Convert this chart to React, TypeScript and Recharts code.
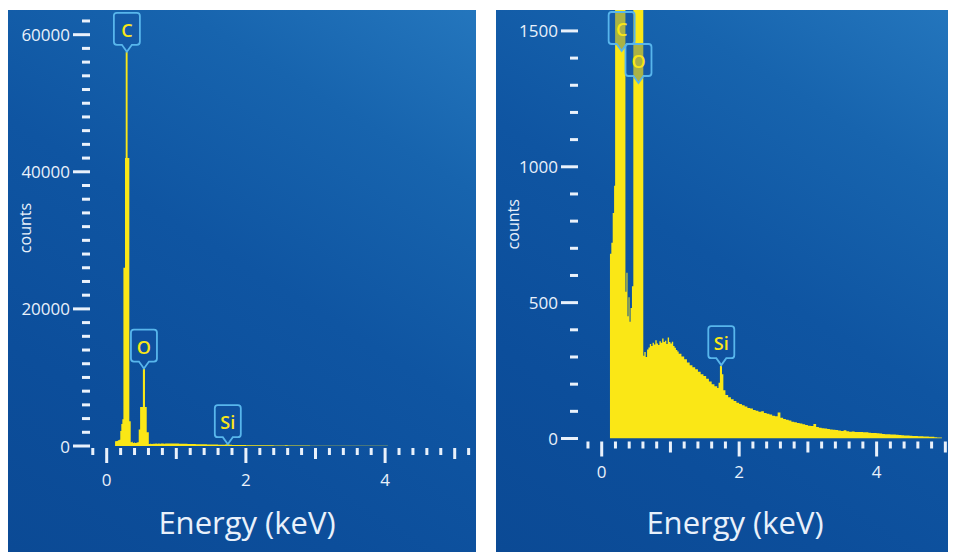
import React from 'react';
import { AreaChart, Area, XAxis, YAxis, ReferenceDot } from 'recharts';

// EDS spectrum, channel start energy (keV) and counts per channel
const energyKeV = [
  0.12, 0.14, 0.16, 0.18, 0.195, 0.21, 0.225, 0.24, 0.263, 0.273, 0.3, 0.325,
  0.345, 0.36, 0.375, 0.39, 0.405, 0.42, 0.44, 0.46, 0.48, 0.52, 0.55, 0.575,
  0.605, 0.62, 0.64, 0.66, 0.68, 0.7, 0.72, 0.74, 0.76, 0.78, 0.8, 0.82, 0.84,
  0.86, 0.88, 0.9, 0.92, 0.94, 0.96, 0.98, 1.0, 1.02, 1.04, 1.06, 1.08, 1.1,
  1.12, 1.16, 1.2, 1.24, 1.28, 1.32, 1.36, 1.4, 1.44, 1.48, 1.52, 1.56, 1.6,
  1.64, 1.68, 1.7, 1.72, 1.75, 1.77, 1.8, 1.84, 1.88, 1.92, 1.96, 2.0, 2.04,
  2.08, 2.12, 2.16, 2.2, 2.24, 2.28, 2.32, 2.36, 2.4, 2.44, 2.48, 2.52, 2.56,
  2.6, 2.64, 2.68, 2.72, 2.76, 2.8, 2.84, 2.88, 2.92, 2.96, 3.0, 3.04, 3.08,
  3.12, 3.16, 3.2, 3.24, 3.28, 3.32, 3.36, 3.4, 3.44, 3.48, 3.52, 3.56, 3.6,
  3.64, 3.68, 3.72, 3.76, 3.8, 3.84, 3.88, 3.92, 3.96, 4.0, 4.04, 4.08, 4.12,
  4.16, 4.2, 4.24, 4.28, 4.32, 4.36, 4.4, 4.44, 4.48, 4.52, 4.56, 4.6, 4.64,
  4.68, 4.72, 4.76, 4.8, 4.84, 4.88, 4.92, 4.95,
];
const counts = [
  680, 720, 830, 930, 2200, 3200, 3900, 26000, 42000, 57500, 42000, 3600,
  540, 610, 450, 520, 430, 480, 560, 2400, 5700, 11300, 5700, 2000,
  305, 318, 300, 328, 335, 348, 340, 352, 346, 362, 350, 344, 358,
  352, 368, 355, 360, 348, 372, 355, 350, 356, 340, 334, 326, 320,
  312, 302, 292, 280, 270, 262, 255, 246, 236, 230, 220, 210, 200,
  192, 186, 205, 268, 236, 178, 160, 152, 144, 138, 132, 127, 122,
  118, 112, 110, 105, 102, 98, 100, 94, 91, 88, 84, 82, 96,
  76, 72, 69, 66, 62, 60, 57, 55, 52, 50, 47, 46, 53,
  42, 40, 38, 37, 35, 33, 32, 31, 29, 28, 30, 27, 25,
  26, 24, 24, 24, 23, 23, 21, 20, 20, 19, 18, 17, 16,
  16, 15, 15, 14, 13, 12, 11, 11, 10, 9, 9, 8, 8,
  7, 7, 6, 6, 5, 4, 4, 3,
];

const peakNames = ['C', 'O', 'Si'];
const peakEnergy = [0.29, 0.535, 1.74];
const peakCounts = [57500, 11300, 270];

const energyTicks = [
  -0.2, 0, 0.2, 0.4, 0.6, 0.8, 1, 1.2, 1.4, 1.6, 1.8, 2, 2.2, 2.4, 2.6, 2.8,
  3, 3.2, 3.4, 3.6, 3.8, 4, 4.2, 4.4, 4.6, 4.8, 5, 5.2,
];
const energyLabels = [0, 2, 4];

const fullCountTicks = [
  0, 2000, 4000, 6000, 8000, 10000, 12000, 14000, 16000, 18000, 20000, 22000,
  24000, 26000, 28000, 30000, 32000, 34000, 36000, 38000, 40000, 42000, 44000,
  46000, 48000, 50000, 52000, 54000, 56000, 58000, 60000, 62000,
];
const fullCountLabels = [0, 20000, 40000, 60000];

const zoomCountTicks = [
  0, 100, 200, 300, 400, 500, 600, 700, 800, 900, 1000, 1100, 1200, 1300, 1400, 1500,
];
const zoomCountLabels = [0, 500, 1000, 1500];

const spectrum = energyKeV.map((e, i) => ({ energy: e, counts: counts[i] }));

const FONT = "'Open Sans', 'DejaVu Sans', sans-serif";
const INK = '#e9f1fb';
const YELLOW = '#fae716';
const BG = 'linear-gradient(212deg, #2476bd 0%, #1764ae 22%, #0f55a2 48%, #0c4e9b 75%, #0b4a95 100%)';

const makeEnergyTick = (gap: number) => (props: any) => {
  const { x, y, payload } = props;
  const v = payload.value;
  const whole = Math.abs(v - Math.round(v)) < 1e-6;
  const labelled = whole && energyLabels.includes(Math.round(v));
  const len = labelled ? 15 : whole ? 11 : 7;
  return (
    <g>
      <rect x={x - 1.5} y={y + gap} width={3} height={len} fill={INK} />
      {labelled && (
        <text x={x} y={y + 33} textAnchor="middle" dominantBaseline="central" fill={INK} fontSize={17} fontFamily={FONT}>
          {Math.round(v)}
        </text>
      )}
    </g>
  );
};

const makeCountTick = (labels: number[]) => (props: any) => {
  const { x, y, payload } = props;
  const major = labels.includes(payload.value);
  return (
    <g>
      <rect x={major ? x - 17 : x - 8} y={y - 1.5} width={major ? 17 : 8} height={3} fill={INK} />
      {major && (
        <text x={x - 20} y={y} textAnchor="end" dominantBaseline="central" fill={INK} fontSize={17} fontFamily={FONT}>
          {payload.value}
        </text>
      )}
    </g>
  );
};

const CountsTitle = (props: any) => {
  const { viewBox } = props;
  const x = viewBox.x + 17;
  const y = viewBox.y + viewBox.height / 2;
  return (
    <text x={x} y={y} transform={`rotate(-90 ${x} ${y})`} textAnchor="middle" dominantBaseline="central" fill={INK} fontSize={16} fontFamily={FONT}>
      counts
    </text>
  );
};

const EnergyTitle = (props: any) => {
  const { viewBox } = props;
  return (
    <text x={viewBox.x + 157} y={viewBox.y + viewBox.height - 30} textAnchor="middle" dominantBaseline="central" fill={INK} fontSize={31} fontFamily={FONT}>
      Energy (keV)
    </text>
  );
};

const Callout = (props: any) => {
  const { cx, cy, name, stack } = props;
  const tip = stack >= 0 ? cy + 41 + stack * 32 : cy;
  const w = 26, h = 32, p = 7, r = 3;
  const top = tip - p - h;
  const bottom = tip - p;
  const l = cx - w / 2;
  const rt = cx + w / 2;
  const d = `M${l + r},${top} H${rt - r} Q${rt},${top} ${rt},${top + r} V${bottom - r} Q${rt},${bottom} ${rt - r},${bottom} H${cx + 5} L${cx},${tip} L${cx - 5},${bottom} H${l + r} Q${l},${bottom} ${l},${bottom - r} V${top + r} Q${l},${top} ${l + r},${top} Z`;
  return (
    <g>
      <path d={d} fill="rgba(20,80,160,0.35)" stroke="#58b6ec" strokeWidth={1.8} />
      <text x={cx} y={top + h / 2 + 1} textAnchor="middle" dominantBaseline="central" fill={YELLOW} fontSize={18} fontWeight={600} fontFamily={FONT}>
        {name}
      </text>
    </g>
  );
};

interface PanelProps {
  width: number;
  axisHeight: number;
  xDomain: [number, number];
  yMax: number;
  yTicks: number[];
  yLabels: number[];
  xTicks: number[];
  tickGap: number;
}

const SpectrumPanel = ({ width, axisHeight, xDomain, yMax, yTicks, yLabels, xTicks, tickGap }: PanelProps) => {
  let clipped = 0;
  const labels = peakNames.map((name, i) => {
    const over = peakCounts[i] > yMax;
    const stack = over ? clipped++ : -1;
    return { name, energy: peakEnergy[i], y: over ? yMax : peakCounts[i], stack };
  });
  return (
    <div style={{ width, height: 542, background: BG }}>
      <AreaChart width={width} height={542} data={spectrum} margin={{ top: 0, right: 0, bottom: 0, left: 0 }}>
        <XAxis
          dataKey="energy"
          type="number"
          domain={xDomain}
          allowDataOverflow
          ticks={xTicks}
          interval={0}
          tickSize={0}
          tickMargin={0}
          axisLine={false}
          tickLine={false}
          height={axisHeight}
          tick={makeEnergyTick(tickGap)}
          label={<EnergyTitle />}
        />
        <YAxis
          type="number"
          domain={[0, yMax]}
          allowDataOverflow
          ticks={yTicks}
          interval={0}
          tickSize={0}
          tickMargin={0}
          axisLine={false}
          tickLine={false}
          width={82}
          tick={makeCountTick(yLabels)}
          label={<CountsTitle />}
        />
        <Area
          type="stepAfter"
          dataKey="counts"
          fill={YELLOW}
          fillOpacity={1}
          stroke="none"
          isAnimationActive={false}
        />
        {labels.map((lb) => (
          <ReferenceDot
            key={lb.name}
            x={lb.energy}
            y={lb.y}
            r={0}
            ifOverflow="visible"
            shape={(p: any) => <Callout cx={p.cx} cy={p.cy} name={lb.name} stack={lb.stack} />}
          />
        ))}
      </AreaChart>
    </div>
  );
};

export default function App() {
  return (
    <div style={{ position: 'relative', width: 948, height: 544 }}>
      <div style={{ position: 'absolute', left: 0, top: 2 }}>
        <SpectrumPanel
          width={468}
          axisHeight={106}
          xDomain={[-0.24, 5.306]}
          yMax={63600}
          yTicks={fullCountTicks}
          yLabels={fullCountLabels}
          xTicks={energyTicks}
          tickGap={2}
        />
      </div>
      <div style={{ position: 'absolute', left: 488, top: 2 }}>
        <SpectrumPanel
          width={460}
          axisHeight={113.5}
          xDomain={[-0.345, 5.155]}
          yMax={1577}
          yTicks={zoomCountTicks}
          yLabels={zoomCountLabels}
          xTicks={energyTicks.filter((t) => t <= 5.155)}
          tickGap={3}
        />
      </div>
    </div>
  );
}
